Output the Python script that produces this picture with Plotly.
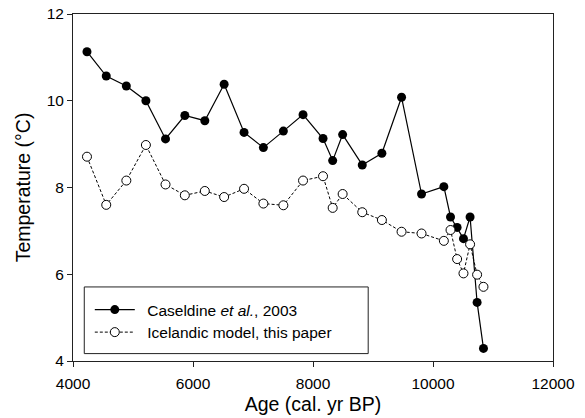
import plotly.graph_objects as go

ages = [4233, 4554, 4889, 5215, 5542, 5864, 6197, 6519, 6851, 7173, 7506, 7834, 8167,
        8328, 8494, 8821, 9148, 9476, 9809, 10181, 10292, 10402, 10508, 10618, 10735, 10841]
caseldine = [11.13, 10.57, 10.34, 10.00, 9.12, 9.66, 9.54, 10.38, 9.27, 8.92, 9.30, 9.68, 9.13,
             8.62, 9.22, 8.52, 8.79, 10.08, 7.85, 8.02, 7.32, 7.08, 6.82, 7.32, 5.35, 4.29]
icelandic = [8.71, 7.60, 8.16, 8.98, 8.07, 7.82, 7.92, 7.78, 7.97, 7.63, 7.59, 8.16, 8.26,
             7.53, 7.85, 7.43, 7.25, 6.98, 6.94, 6.77, 7.02, 6.35, 6.02, 6.69, 5.99, 5.71]
x_ticks = [4000, 6000, 8000, 10000, 12000]
y_ticks = [4, 6, 8, 10, 12]

FONT = "Liberation Sans, Arial, sans-serif"
PAD = "\u00a0\u2009"

fig = go.Figure()
fig.add_trace(go.Scatter(
    x=ages, y=caseldine, mode="lines+markers",
    name=PAD + "Caseldine <i>et al.</i>, 2003",
    line=dict(color="black", width=1.2),
    marker=dict(symbol="circle", size=9, color="black", line=dict(color="black", width=0)),
    legend="legend", showlegend=True,
))
fig.add_trace(go.Scatter(
    x=ages, y=icelandic, mode="lines+markers",
    name=PAD + "Icelandic model, this paper",
    line=dict(color="black", width=1, dash="3px,2px"),
    marker=dict(symbol="circle", size=9, color="white", line=dict(color="black", width=1)),
    legend="legend2", showlegend=True,
))

axis_common = dict(
    showgrid=False, zeroline=False, showline=True, mirror=True,
    linecolor="#222", linewidth=1, ticks="outside", ticklen=5, tickwidth=1,
    tickcolor="#222", tickfont=dict(family=FONT, size=15.5, color="black"),
)
fig.update_xaxes(range=[4000, 12000], tickvals=x_ticks,
                 ticktext=[str(v) for v in x_ticks],
                 title=dict(text="Age (cal. yr BP)", font=dict(family=FONT, size=19.5, color="black"),
                            standoff=6),
                 ticklabelstandoff=3, **axis_common)
fig.update_yaxes(range=[4, 12], tickvals=y_ticks,
                 ticktext=[str(v) for v in y_ticks],
                 title=dict(text="Temperature (°C)", font=dict(family=FONT, size=19.5, color="black"),
                            standoff=10),
                 **axis_common)

leg_common = dict(bgcolor="rgba(0,0,0,0)", borderwidth=0,
                  font=dict(family=FONT, size=15.5, color="black"),
                  itemwidth=40, xanchor="left", yanchor="middle", visible=True)
fig.update_layout(
    width=585, height=418, showlegend=True,
    margin=dict(l=73, r=32, t=14, b=57, autoexpand=False),
    paper_bgcolor="white", plot_bgcolor="white",
    legend=dict(x=0.035, y=0.147, **leg_common),
    legend2=dict(x=0.035, y=0.082, **leg_common),
    shapes=[dict(type="rect", xref="paper", yref="paper",
                 x0=0.0235, x1=0.615, y0=0.0213, y1=0.2134,
                 line=dict(color="#222", width=1), fillcolor="rgba(0,0,0,0)")],
)

fig.write_html("out.html")
